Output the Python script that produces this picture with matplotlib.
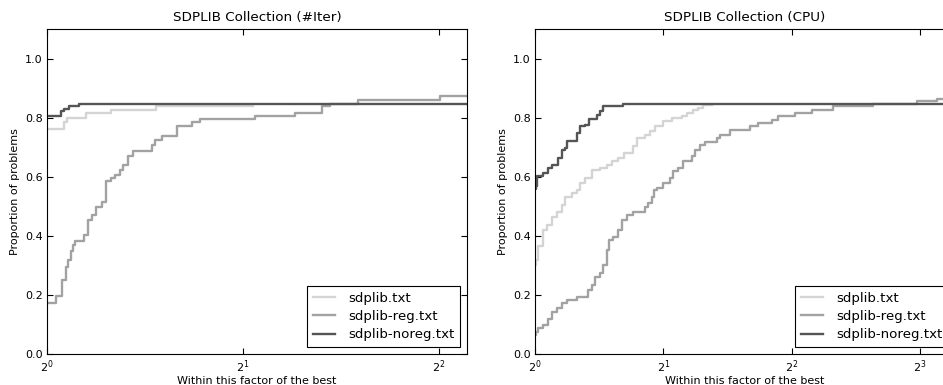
import matplotlib
matplotlib.use("Agg")
import matplotlib.pyplot as plt
from matplotlib.ticker import FixedLocator, LogFormatterMathtext

LABELS = ["sdplib.txt", "sdplib-reg.txt", "sdplib-noreg.txt"]
COLORS = ["#d4d4d4", "#a2a2a2", "#555555"]

# ---- #Iter panel: (ratio, proportion) step points, steps-post
iter_plain_x = [1.0, 1.062, 1.074, 1.146, 1.253, 1.469, 2.074]
iter_plain_y = [0.761, 0.786, 0.800, 0.816, 0.826, 0.839, 0.839]

iter_reg_x = [1.0, 1.031, 1.055, 1.068, 1.077, 1.087, 1.097, 1.105, 1.140, 1.158,
              1.174, 1.188, 1.216, 1.230, 1.253, 1.272, 1.294, 1.309, 1.333, 1.357,
              1.448, 1.465, 1.500, 1.582, 1.668, 1.718, 2.087, 2.403, 2.643, 2.721,
              3.006, 4.014, 4.42]
iter_reg_y = [0.174, 0.198, 0.251, 0.296, 0.319, 0.347, 0.369, 0.381, 0.403, 0.454,
              0.471, 0.499, 0.516, 0.584, 0.595, 0.607, 0.624, 0.641, 0.669, 0.686,
              0.708, 0.725, 0.739, 0.773, 0.784, 0.795, 0.807, 0.816, 0.838, 0.847,
              0.859, 0.872, 0.872]

iter_noreg_x = [1.0, 1.050, 1.062, 1.081, 1.120, 4.42]
iter_noreg_y = [0.804, 0.821, 0.829, 0.838, 0.847, 0.847]

# ---- CPU panel
cpu_plain_x = [1.0, 1.005, 1.018, 1.046, 1.065, 1.094, 1.124, 1.155, 1.176, 1.219,
               1.253, 1.275, 1.310, 1.358, 1.421, 1.473, 1.514, 1.566, 1.618, 1.701,
               1.733, 1.811, 1.861, 1.912, 2.000, 2.093, 2.209, 2.270, 2.352, 2.416,
               2.482, 2.598]
cpu_plain_y = [0.300, 0.319, 0.364, 0.420, 0.437, 0.465, 0.482, 0.505, 0.533, 0.544,
               0.556, 0.578, 0.595, 0.624, 0.629, 0.641, 0.652, 0.664, 0.680, 0.703,
               0.731, 0.742, 0.754, 0.771, 0.788, 0.799, 0.804, 0.816, 0.827, 0.833,
               0.842, 0.842]

cpu_reg_x = [1.0, 1.005, 1.018, 1.046, 1.073, 1.094, 1.124, 1.155, 1.187, 1.253,
             1.334, 1.358, 1.383, 1.421, 1.446, 1.473, 1.494, 1.526, 1.568, 1.597,
             1.641, 1.701, 1.811, 1.844, 1.879, 1.902, 1.930, 2.000, 2.073, 2.111,
             2.169, 2.228, 2.331, 2.373, 2.438, 2.505, 2.668, 2.717, 2.868, 3.195,
             3.341, 3.592, 3.722, 4.073, 4.459, 5.011, 6.219, 7.862, 8.760, 9.67]
cpu_reg_y = [0.065, 0.076, 0.087, 0.098, 0.120, 0.143, 0.155, 0.172, 0.183, 0.194,
             0.217, 0.234, 0.262, 0.273, 0.302, 0.353, 0.386, 0.397, 0.420, 0.454,
             0.471, 0.482, 0.499, 0.511, 0.533, 0.556, 0.561, 0.578, 0.595, 0.618,
             0.629, 0.652, 0.669, 0.692, 0.708, 0.716, 0.731, 0.742, 0.759, 0.771,
             0.782, 0.793, 0.804, 0.816, 0.827, 0.838, 0.847, 0.855, 0.864, 0.864]

cpu_noreg_x = [1.0, 1.005, 1.013, 1.046, 1.075, 1.094, 1.134, 1.155, 1.176, 1.187,
               1.253, 1.275, 1.310, 1.341, 1.396, 1.421, 1.446, 1.611, 9.67]
cpu_noreg_y = [0.560, 0.567, 0.601, 0.612, 0.629, 0.641, 0.663, 0.692, 0.697, 0.720,
               0.748, 0.771, 0.776, 0.795, 0.810, 0.821, 0.838, 0.847, 0.847]

panels = [
    ("SDPLIB Collection (#Iter)", 4.42, [0, 1, 2],
     [(iter_plain_x, iter_plain_y), (iter_reg_x, iter_reg_y), (iter_noreg_x, iter_noreg_y)]),
    ("SDPLIB Collection (CPU)", 9.67, [0, 1, 2, 3],
     [(cpu_plain_x, cpu_plain_y), (cpu_reg_x, cpu_reg_y), (cpu_noreg_x, cpu_noreg_y)]),
]

fig = plt.figure(figsize=(9.43, 3.85), dpi=100)
fig.patch.set_facecolor("white")
W, H = 943.0, 385.0
boxes = [(47, 420), (535, 420)]  # left px, width px

for (title, xmax, exps, series), (x0, w) in zip(panels, boxes):
    ax = fig.add_axes([x0 / W, 31 / H, w / W, 325 / H])
    for (xs, ys), lbl, c in zip(series, LABELS, COLORS):
        ax.step(xs, ys, where="post", color=c, lw=1.7, label=lbl)
    ax.set_xscale("log", base=2)
    ax.set_xlim(1, xmax)
    ax.set_ylim(0, 1.1)
    ax.xaxis.set_major_locator(FixedLocator([2.0 ** e for e in exps]))
    ax.xaxis.set_major_formatter(LogFormatterMathtext(base=2))
    ax.xaxis.set_minor_locator(FixedLocator([]))
    ax.set_yticks([0.0, 0.2, 0.4, 0.6, 0.8, 1.0])
    ax.tick_params(direction="in", top=True, right=True, length=4, width=0.8,
                   labelsize=8, pad=3)
    ax.set_title(title, fontsize=9.7, pad=6)
    ax.set_xlabel("Within this factor of the best", fontsize=8, labelpad=1)
    ax.set_ylabel("Proportion of problems", fontsize=8)
    leg = ax.legend(loc="lower right", fontsize=9.6, fancybox=False, framealpha=1,
                    edgecolor="black", handlelength=1.65, handletextpad=1.0,
                    borderaxespad=0.55, labelspacing=0.4)
    leg.get_frame().set_linewidth(0.8)

fig.savefig("out.png", dpi=100)
